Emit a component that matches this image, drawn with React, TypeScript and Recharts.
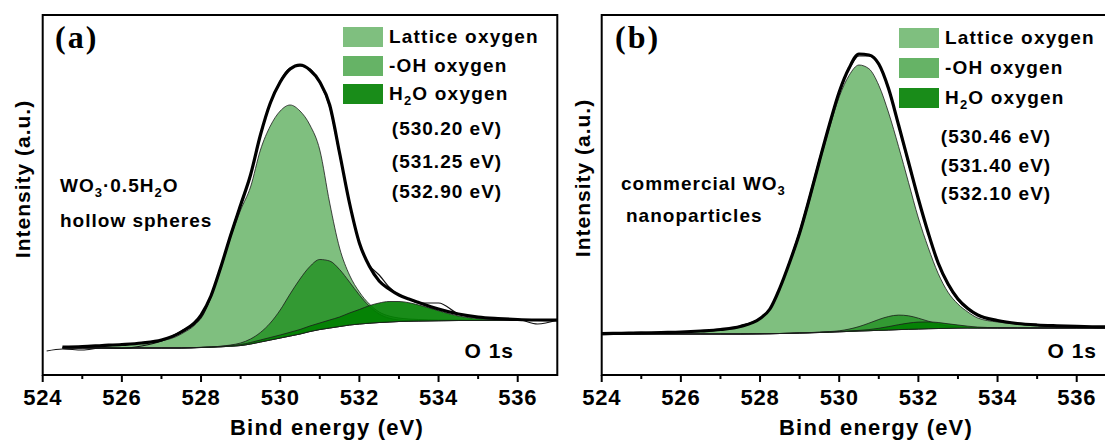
import React from "react";
import { ComposedChart, Area, Line, XAxis, YAxis, ReferenceArea } from "recharts";

// binding energies (eV) sampled along each spectrum
const energyA = [524.1, 524.5, 525, 525.5, 526, 526.5, 527, 527.5, 528, 528.25, 528.5, 528.75, 529, 529.25, 529.5, 529.75, 530, 530.25, 530.5, 530.75, 531, 531.25, 531.5, 531.75, 532, 532.25, 532.5, 532.75, 533, 533.25, 533.5, 534, 534.5, 535, 535.5, 536, 536.5, 537];
const energyB = [524, 524.5, 525, 525.5, 526, 526.5, 527, 527.5, 528, 528.25, 528.5, 528.75, 529, 529.25, 529.5, 529.75, 530, 530.25, 530.5, 530.75, 531, 531.25, 531.5, 531.75, 532, 532.25, 532.5, 532.75, 533, 533.25, 533.5, 534, 534.5, 535, 535.5, 536, 536.5, 537];

// (a) WO3·0.5H2O hollow spheres
const backgroundA = [null, 27, 27, 27, 27, 27, 27, 27, 27.5, 27.8, 28.2, 28.8, 29.5, 31, 33, 35, 37, 39, 41, 43.5, 45.5, 47, 48.5, 50, 51, 51.8, 52.5, 53, 53.5, 53.8, 54, 54.3, 54.5, 54.5, 54.5, 54.5, 54.5, 54.5];
const latticeA = [null, 1, 1.5, 2, 3, 4.5, 7, 14, 30.5, 50.2, 77.8, 109.2, 135.5, 157, 192, 214, 227, 231, 223, 206.5, 179.5, 125, 78.5, 50, 32, 19.2, 10.5, 6, 3.5, 2.2, 1.5, 0.7, 0.5, 0.4, 0.3, 0.3, 0.2, 0.2];
const hydroxylA = [null, 0, 0, 0, 0, 0, 0, 0, 0.1, 0.2, 0.5, 1.2, 2.5, 5, 9.5, 17, 28, 42, 55, 65, 70, 67, 57, 43, 29, 17, 8.5, 3.8, 1.5, 0.5, 0.2, 0, 0, 0, 0, 0, 0, 0];
const waterA = [null, 0, 0, 0, 0, 0, 0, 0, 0.2, 0.3, 0.5, 0.8, 1, 1.5, 2, 2.5, 3, 3.7, 4.5, 5.5, 6.5, 8, 9.5, 12, 14.5, 17.5, 19.5, 20.5, 20, 18.5, 16, 10, 4.5, 1.8, 0.6, 0.2, 0, 0];
const envelopeA = [null, 28, 28.5, 29.5, 30.5, 32, 35, 43, 60, 79, 108, 140, 170, 200, 240, 272, 293, 306, 310, 305, 293, 270, 222, 172, 132, 109, 94, 86, 80, 76, 72.5, 66, 61, 58, 56.5, 55.5, 55, 54.8];
const measuredA = [24, 26, 25, 27, 26.5, 29, 34, 44, 57, 78, 108, 141, 171, 200, 241, 271, 294, 307, 309, 306, 292, 268, 220, 172, 131, 110, 100, 88, 80, 76, 72, 72, 61, 57, 56, 55.5, 51, 55];

// (b) commercial WO3 nanoparticles
const backgroundB = [41, 41, 41, 41, 41, 41, 41, 41, 41.2, 41.3, 41.5, 41.7, 42, 42.2, 42.5, 42.8, 43.2, 43.6, 44, 44.3, 44.7, 45, 45.4, 45.7, 46, 46.3, 46.5, 46.7, 46.9, 47, 47, 47, 47, 47, 47, 47, 47, 47];
const latticeB = [0.3, 0.5, 0.8, 1.2, 1.7, 2.5, 4, 7, 15, 24, 45, 70, 98, 132, 169, 204, 235, 256, 266, 262, 245, 217, 183, 147, 111, 81, 55, 36, 24, 16, 10, 6, 4, 3, 2.2, 1.6, 1.2, 1];
const hydroxylB = [0, 0, 0, 0, 0, 0, 0, 0, 0, 0, 0, 0, 0.1, 0.2, 0.4, 0.6, 1, 2.3, 4.4, 7.5, 10.8, 13.5, 14.5, 13.5, 10.8, 7.5, 4.4, 2.3, 1, 0.4, 0.1, 0, 0, 0, 0, 0, 0, 0];
const waterB = [0, 0, 0, 0, 0, 0, 0, 0, 0, 0, 0, 0, 0, 0.1, 0.2, 0.3, 0.4, 0.5, 0.6, 1.1, 2, 3.4, 4.9, 6.2, 6.9, 6.8, 6, 4.5, 3.1, 1.8, 0.9, 0.3, 0.1, 0, 0, 0, 0, 0];
const envelopeB = [41.5, 41.7, 42, 42.5, 43, 44, 45.5, 48.5, 56.5, 66, 87, 113, 142, 177, 214, 250, 283, 307, 321, 320, 311, 286, 250, 213, 176, 142, 112, 91, 76, 66.5, 60, 54.5, 51.5, 50, 49.2, 48.6, 48.2, 48];
const measuredB = [40, 41, 43, 42, 42.5, 44, 45, 49, 57, 66, 86, 114, 144, 179, 216, 251, 284, 306, 319, 319, 310, 285, 249, 211, 175, 141, 111, 90, 75, 65.5, 59.5, 54, 51, 49.5, 48.5, 48.5, 47.5, 48];

const xTicks = [524, 525, 526, 527, 528, 529, 530, 531, 532, 533, 534, 535, 536];
const legendNames = ["Lattice oxygen", "-OH oxygen", "H2O oxygen"];
const peaksA = ["(530.20 eV)", "(531.25 eV)", "(532.90 eV)"];
const peaksB = ["(530.46 eV)", "(531.40 eV)", "(532.10 eV)"];

const GREEN = "#008000";
const OPAC = [0.5, 0.6, 0.9];
const FONT = "'Liberation Sans', Arial, sans-serif";

function buildRows(energy: number[], bg: any[], lat: any[], oh: any[], h2o: any[], env: any[], raw: any[]) {
  return energy.map((e, i) => {
    const b = bg[i];
    const ok = b !== null;
    return {
      e,
      bg: b,
      lat: ok ? [b, b + lat[i]] : null,
      oh: ok ? [b, b + oh[i]] : null,
      h2o: ok ? [b, b + h2o[i]] : null,
      env: env[i],
      raw: raw[i],
    };
  });
}

const EnergyTick = (props: any) => {
  const { x, y, payload } = props;
  const major = payload.value % 2 === 0;
  return (
    <g>
      <line x1={x} x2={x} y1={y} y2={y + (major ? 7 : 4)} stroke="#000" strokeWidth={2} />
      {major && (
        <text x={x} y={y + 30} textAnchor="middle" fontFamily={FONT} fontWeight="bold" fontSize={22} letterSpacing={0.8} fill="#000">
          {payload.value}
        </text>
      )}
    </g>
  );
};

function LegendName({ name, x, y }: { name: string; x: number; y: number }) {
  if (name.startsWith("H2O")) {
    return (
      <text x={x} y={y} fontFamily={FONT} fontWeight="bold" fontSize={19} letterSpacing={1.2}>
        H<tspan dy={5} fontSize={13}>2</tspan>
        <tspan dy={-5}>O oxygen</tspan>
      </text>
    );
  }
  return (
    <text x={x} y={y} fontFamily={FONT} fontWeight="bold" fontSize={19} letterSpacing={1.2}>
      {name}
    </text>
  );
}

function Panel(props: any) {
  const { rows, left, plotLeft, plotRight, tag, peaks, lay, sample } = props;
  const txt = { fontFamily: FONT, fontWeight: "bold" as const, fill: "#000" };
  return (
    <div style={{ position: "absolute", left, top: 0, width: 560, height: 441 }}>
      <ComposedChart width={560} height={441} data={rows} margin={{ top: 15, right: plotRight, left: plotLeft, bottom: 0 }}>
        <XAxis dataKey="e" type="number" domain={[524, 537]} ticks={xTicks} interval={0} tick={<EnergyTick />} tickSize={0} tickMargin={0} tickLine={false} axisLine={false} height={66} allowDataOverflow />
        <YAxis type="number" domain={[0, 360]} hide allowDataOverflow />
        <Area type="monotone" dataKey="lat" fill={GREEN} fillOpacity={OPAC[0]} stroke="#1a1a1a" strokeWidth={0.8} isAnimationActive={false} />
        <Area type="monotone" dataKey="oh" fill={GREEN} fillOpacity={OPAC[1]} stroke="#1a1a1a" strokeWidth={0.8} isAnimationActive={false} />
        <Area type="monotone" dataKey="h2o" fill={GREEN} fillOpacity={OPAC[2]} stroke="#1a1a1a" strokeWidth={0.8} isAnimationActive={false} />
        <Line type="monotone" dataKey="raw" stroke="#111" strokeWidth={1.2} dot={false} isAnimationActive={false} />
        <Line type="monotone" dataKey="env" stroke="#000" strokeWidth={3.2} dot={false} isAnimationActive={false} />
        <ReferenceArea x1={524} x2={537} y1={0} y2={360} fill="none" stroke="#000" strokeWidth={2} ifOverflow="visible" />
      </ComposedChart>
      <svg width={560} height={441} style={{ position: "absolute", left: 0, top: 0, pointerEvents: "none" }}>
        <text x={lay.tagX} y={48} fontFamily="'Liberation Serif', 'Times New Roman', serif" fontWeight="bold" fontSize={32} letterSpacing={2}>
          {tag}
        </text>
        <text transform={`translate(${lay.yTitleX}, ${lay.yTitleY}) rotate(-90)`} textAnchor="middle" {...txt} fontSize={21} letterSpacing={1}>
          Intensity (a.u.)
        </text>
        {legendNames.map((n, i) => (
          <g key={n}>
            <rect x={lay.swX} y={lay.swY[i]} width={40} height={20} fill={GREEN} fillOpacity={OPAC[i]} />
            <LegendName name={n} x={lay.swX + 46} y={lay.swY[i] + 16} />
          </g>
        ))}
        {peaks.map((p: string, i: number) => (
          <text key={p} x={lay.peakX} y={lay.peakY[i]} textAnchor="middle" {...txt} fontSize={19} letterSpacing={1}>
            {p}
          </text>
        ))}
        {sample}
        <text x={lay.o1sX} y={358} textAnchor="end" {...txt} fontSize={21} letterSpacing={1}>
          O 1s
        </text>
        <text x={lay.titleX} y={435} textAnchor="middle" {...txt} fontSize={22} letterSpacing={1.2}>
          Bind energy (eV)
        </text>
      </svg>
    </div>
  );
}

export default function App() {
  const rowsA = buildRows(energyA, backgroundA, latticeA, hydroxylA, waterA, envelopeA, measuredA);
  const rowsB = buildRows(energyB, backgroundB, latticeB, hydroxylB, waterB, envelopeB, measuredB);
  const lbl = { fontFamily: FONT, fontWeight: "bold" as const, fontSize: 19, letterSpacing: 1, fill: "#000" };

  const sampleA = (
    <g>
      <text x={60} y={192} {...lbl}>
        WO<tspan dy={5} fontSize={13}>3</tspan>
        <tspan dy={-5}>·0.5H</tspan>
        <tspan dy={5} fontSize={13}>2</tspan>
        <tspan dy={-5}>O</tspan>
      </text>
      <text x={60} y={227} {...lbl}>hollow spheres</text>
    </g>
  );
  const sampleB = (
    <g>
      <text x={61} y={190} {...lbl}>
        commercial WO<tspan dy={5} fontSize={13}>3</tspan>
      </text>
      <text x={66} y={222} {...lbl}>nanoparticles</text>
    </g>
  );

  return (
    <div style={{ position: "absolute", left: 0, top: 0, width: 1105, height: 441, overflow: "hidden", background: "#fff" }}>
      <Panel
        rows={rowsA}
        left={0}
        plotLeft={42.7}
        plotRight={2.7}
        tag="(a)"
        peaks={peaksA}
        sample={sampleA}
        lay={{ tagX: 55, yTitleX: 30, yTitleY: 179, swX: 343, swY: [27, 56, 84], peakX: 447, peakY: [135, 168, 198], o1sX: 514, titleX: 327 }}
      />
      <Panel
        rows={rowsB}
        left={560}
        plotLeft={41.7}
        plotRight={3.7}
        tag="(b)"
        peaks={peaksB}
        sample={sampleB}
        lay={{ tagX: 55, yTitleX: 30, yTitleY: 178, swX: 339, swY: [28, 58, 88], peakX: 436, peakY: [143, 172, 200], o1sX: 537, titleX: 316 }}
      />
    </div>
  );
}
